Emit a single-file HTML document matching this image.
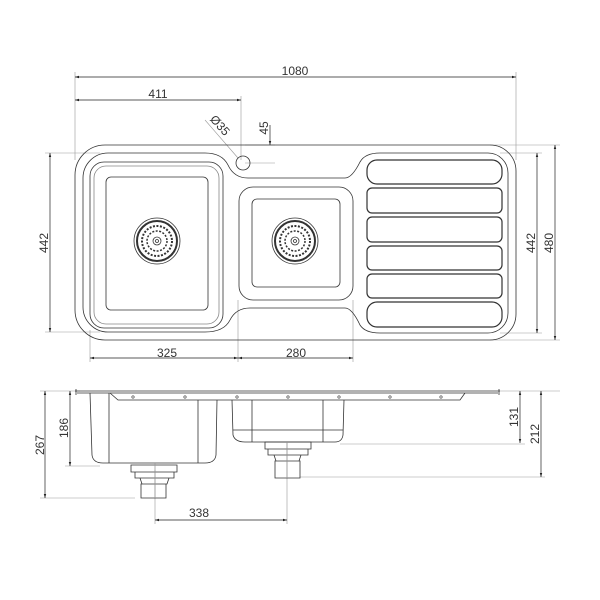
<!DOCTYPE html>
<html><head><style>body{margin:0;background:#fff}svg{display:block}text{font-family:"Liberation Sans",sans-serif;font-size:12px;fill:#333}</style></head><body>
<svg width="600" height="600" viewBox="0 0 600 600" xmlns="http://www.w3.org/2000/svg">
<defs><marker id="a" viewBox="0 0 10 10" refX="10" refY="5" markerWidth="6" markerHeight="6" orient="auto-start-reverse"><path d="M0,2L10,5L0,8z" fill="#222"/></marker></defs>
<g fill="none" stroke="#999" stroke-width="0.6">
<!-- extension lines -->
<line x1="75" y1="72" x2="75" y2="160"/><line x1="516" y1="72" x2="516" y2="160"/>
<line x1="241" y1="96" x2="241" y2="160"/>
<line x1="245" y1="145" x2="275" y2="145"/><line x1="245" y1="163" x2="275" y2="163"/>
<line x1="45" y1="153" x2="100" y2="153"/><line x1="45" y1="332" x2="100" y2="332"/>
<line x1="490" y1="145" x2="560" y2="145"/><line x1="490" y1="340" x2="560" y2="340"/>
<line x1="500" y1="153" x2="542" y2="153"/><line x1="500" y1="333" x2="542" y2="333"/>
<line x1="90" y1="330" x2="90" y2="362"/><line x1="238" y1="300" x2="238" y2="362"/><line x1="353" y1="300" x2="353" y2="362"/>
<line x1="205" y1="120" x2="238" y2="158"/>
<!-- side view extensions -->
<line x1="40" y1="391" x2="80" y2="391"/><line x1="40" y1="498" x2="135" y2="498"/><line x1="65" y1="466" x2="100" y2="466"/>
<line x1="500" y1="391" x2="560" y2="391"/><line x1="340" y1="444" x2="525" y2="444"/><line x1="300" y1="477" x2="545" y2="477"/>
<line x1="155" y1="470" x2="155" y2="524"/><line x1="287" y1="442" x2="287" y2="524"/>
</g>
<g fill="none" stroke="#222" stroke-width="0.7" marker-start="url(#a)" marker-end="url(#a)">
<line x1="75" y1="77" x2="516" y2="77"/><line x1="75" y1="100" x2="241" y2="100"/>
<line x1="50" y1="153" x2="50" y2="332"/><line x1="537" y1="153" x2="537" y2="333"/><line x1="555" y1="145" x2="555" y2="340"/>
<line x1="90" y1="358" x2="238" y2="358"/><line x1="238" y1="358" x2="353" y2="358"/>
<line x1="45" y1="391" x2="45" y2="498"/><line x1="70" y1="391" x2="70" y2="466"/>
<line x1="520" y1="391" x2="520" y2="443"/><line x1="541" y1="391" x2="541" y2="477"/>
<line x1="155" y1="520" x2="287" y2="520"/>
</g>
<line x1="270" y1="125" x2="270" y2="145" stroke="#222" stroke-width="0.7" marker-end="url(#a)"/>
<g text-anchor="middle">
<text x="295" y="75">1080</text><text x="158" y="98">411</text>
<text x="167" y="357">325</text><text x="296" y="357">280</text>
<text x="199" y="517">338</text>
<text transform="translate(48,243) rotate(-90)">442</text>
<text transform="translate(535,243) rotate(-90)">442</text>
<text transform="translate(553,243) rotate(-90)">480</text>
<text transform="translate(268,128) rotate(-90)">45</text>
<text transform="translate(44,445) rotate(-90)">267</text>
<text transform="translate(68,428) rotate(-90)">186</text>
<text transform="translate(518,417) rotate(-90)">131</text>
<text transform="translate(539,434) rotate(-90)">212</text>
<text transform="translate(217,128) rotate(48)">Ø35</text>
</g>
<g fill="none" stroke="#333" stroke-width="0.8">
<!-- top view outline -->
<path d="M105,145 H490 A26,26 0 0 1 516,171 V314 A26,26 0 0 1 490,340 H105 A30,30 0 0 1 75,310 V175 A30,30 0 0 1 105,145z"/>
<path d="M108,153 H205 Q222,153 228,165 Q234,178 248,178 H345 Q352,178 360,162 Q365,153 380,153 H488 A20,20 0 0 1 508,173 V313 A20,20 0 0 1 488,333 H380 Q365,333 360,325 Q352,308 345,308 H250 Q236,308 230,320 Q224,332 205,332 H108 A25,25 0 0 1 83,307 V178 A25,25 0 0 1 108,153z"/>
<circle cx="243" cy="163" r="7"/>
<rect x="90" y="162" width="133" height="166" rx="14"/>
<rect x="94" y="166" width="125" height="158" rx="12" stroke="#888"/>
<rect x="106" y="177" width="102" height="133" rx="5"/>
<rect x="239" y="187" width="114" height="113" rx="14"/>
<rect x="252" y="199" width="88" height="88" rx="5"/>
<g stroke-width="1.2"><rect x="367" y="160" width="135" height="24" rx="10"/><rect x="367" y="188" width="135" height="25" rx="5"/><rect x="367" y="217" width="135" height="25" rx="5"/><rect x="367" y="246" width="135" height="24" rx="5"/><rect x="367" y="274" width="135" height="24" rx="5"/><rect x="367" y="302" width="135" height="25" rx="10"/></g>
<!-- drains -->
<g id="d"><circle cx="157" cy="241" r="23"/><circle cx="157" cy="241" r="20" stroke-width="2"/><circle cx="157" cy="241" r="15" stroke-dasharray="2 1.5" stroke-width="2"/><circle cx="157" cy="241" r="10" stroke-dasharray="2 1.5" stroke-width="1.5"/><circle cx="157" cy="241" r="4"/><circle cx="157" cy="241" r="1.5"/></g>
<use href="#d" x="138" y="0"/>
<!-- side view -->
<path d="M75,391 H500 M77,393 H498 M76,389 V395 M499,389 V395 M110,393 L118,400 H460 L465,393"/>
<path d="M90,393 L92,455 Q93,463 103,463 H205 Q215,463 216,455 L217,400"/>
<line x1="109" y1="393" x2="109" y2="463"/><line x1="198" y1="400" x2="198" y2="463"/>
<path d="M232,400 L233,435 Q235,442 245,442 H335 Q342,442 343,435 L344,400"/>
<line x1="252" y1="400" x2="252" y2="442"/><line x1="323" y1="400" x2="323" y2="442"/><line x1="233" y1="430" x2="343" y2="430"/>
<path d="M131,465 H177 V472 H131z M135,472 H174 V478 H135z M140,478 L142,484 H167 L169,478 M141,484 H166 V498 H141z"/>
<path d="M265,442 H311 V449 H265z M268,449 H308 V455 H268z M274,455 L276,461 H299 L301,455 M275,461 H300 V478 H275z"/>
<line x1="155" y1="463" x2="155" y2="498" stroke="#999"/><line x1="287" y1="442" x2="287" y2="478" stroke="#999"/>
<g stroke-width="0.6"><circle cx="133" cy="397" r="1.2"/><circle cx="185" cy="397" r="1.2"/><circle cx="237" cy="397" r="1.2"/><circle cx="288" cy="397" r="1.2"/><circle cx="339" cy="397" r="1.2"/><circle cx="390" cy="397" r="1.2"/><circle cx="441" cy="397" r="1.2"/></g>
</g>
</svg>
</body></html>
